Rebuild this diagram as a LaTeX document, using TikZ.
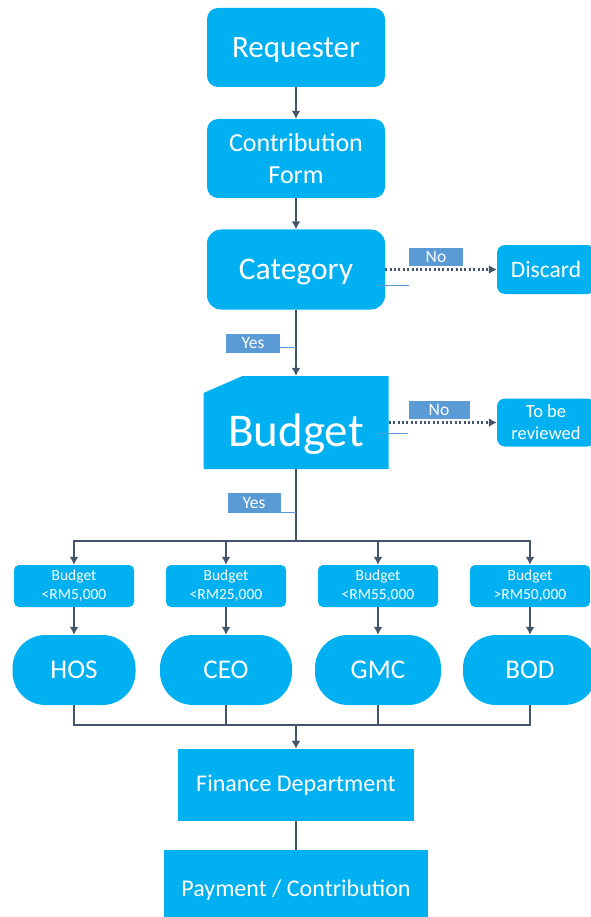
\documentclass[tikz,border=0pt]{standalone}
\usepackage{fontspec}
\setmainfont{Carlito}
\usetikzlibrary{arrows.meta}
\definecolor{boxblue}{HTML}{00B0F0}
\definecolor{tagblue}{HTML}{5B9BD5}
\definecolor{linegray}{HTML}{44546A}
\tikzstyle{block} = [fill=boxblue, rectangle, rounded corners=11pt, text=white,
    align=center, minimum height=79pt, minimum width=178pt]
\tikzstyle{decision} = [block, rounded corners=14pt, minimum height=80pt,
    text height=20pt, text depth=0pt, font=\fontsize{31.5}{36}\selectfont]
\tikzstyle{budgetcard} = [rectangle, minimum width=185pt, minimum height=93pt,
    path picture={\fill[boxblue] (path picture bounding box.south west)
      -- (path picture bounding box.south east)
      -- (path picture bounding box.north east)
      -- ([xshift=39pt]path picture bounding box.north west)
      -- ([yshift=-17pt]path picture bounding box.north west) -- cycle;}]
\tikzstyle{endbox} = [fill=boxblue, rectangle, rounded corners=8pt, text=white,
    align=center, minimum width=98pt, minimum height=49pt]
\tikzstyle{tag} = [fill=tagblue, rectangle, text=white, inner sep=0pt,
    minimum height=18pt, font=\fontsize{17.5}{20}\selectfont]
\tikzstyle{limit} = [fill=boxblue, rectangle, rounded corners=5pt, text=white,
    align=center, minimum width=120pt, minimum height=42pt, inner sep=0pt,
    font=\fontsize{15.5}{19}\selectfont]
\tikzstyle{approver} = [fill=boxblue, rectangle, rounded corners=33pt, text=white,
    minimum width=126pt, minimum height=70pt, font=\fontsize{27}{32}\selectfont]
\tikzstyle{dept} = [fill=boxblue, rectangle, text=white, minimum height=72pt,
    font=\fontsize{24}{28}\selectfont]
\tikzstyle{split} = [coordinate]
\tikzstyle{line} = [draw=linegray, line width=2.5pt]
\tikzstyle{thinline} = [draw=linegray, line width=2pt]
\tikzstyle{dotline} = [draw=linegray, line width=2.5pt, dash pattern=on 2pt off 2.4pt]
\tikzstyle{leader} = [draw=tagblue, line width=1pt]

\begin{document}
\begin{tikzpicture}[auto,node distance=111pt,>={Latex[length=8pt,width=9pt]}]
    \useasboundingbox (0,0) rectangle (590pt,-917pt);
    \node [block, text height=19.5pt, text depth=0pt,
      font=\fontsize{31}{36}\selectfont] (requester) at (296pt,-47.5pt) {Requester};
    \node [block, below of=requester, font=\fontsize{26}{32}\selectfont] (form) {Contribution\\ Form};
    \node [decision, below of=form] (category) {Category};
    \node [budgetcard, below of=category, node distance=153pt,
      label={[text=white, yshift=-12pt, font=\fontsize{47}{52}\selectfont]center:Budget}] (budget) {};
    \node [endbox, right of=category, node distance=250pt,
      font=\fontsize{23.5}{28}\selectfont] (discard) {Discard};
    \node [endbox, right of=budget, node distance=250pt, minimum height=48pt,
      font=\fontsize{18.5}{22}\selectfont] (review) {To be\\ reviewed};
    \node [tag, right of=category, node distance=140pt, yshift=13pt, minimum width=54pt] (nocat) {No};
    \node [tag, right of=budget, node distance=143pt, yshift=12.5pt, minimum width=61pt] (nobudget) {No};
    \node [tag, below of=category, node distance=73.5pt, xshift=-43pt, minimum width=54pt, minimum height=19pt] (yescat) {Yes};
    \node [tag, below of=budget, node distance=80.5pt, xshift=-42pt, minimum width=53pt, minimum height=20pt] (yesbudget) {Yes};
    \node [split, below of=budget, node distance=118.5pt] (fork) {};
    % spending limits and who signs off
    \node [limit, below of=fork, node distance=45pt, xshift=-222pt] (lim1) {Budget\\ <RM5,000};
    \node [limit, below of=fork, node distance=45pt, xshift=-70pt] (lim2) {Budget\\ <RM25,000};
    \node [limit, below of=fork, node distance=45pt, xshift=82pt] (lim3) {Budget\\ <RM55,000};
    \node [limit, below of=fork, node distance=45pt, xshift=234pt] (lim4) {Budget\\ >RM50,000};
    \node [approver, below of=lim1, node distance=84pt, minimum width=123pt] (hos) {HOS};
    \node [approver, below of=lim2, node distance=84pt, minimum width=132pt] (ceo) {CEO};
    \node [approver, below of=lim3, node distance=84pt] (gmc) {GMC};
    \node [approver, below of=lim4, node distance=84pt, minimum width=134pt] (bod) {BOD};
    \node [split, below of=fork, node distance=184pt] (merge) {};
    \node [dept, below of=fork, node distance=244pt, minimum width=236pt] (finance) {Finance Department};
    \node [dept, below of=finance, node distance=105pt, minimum width=264pt, minimum height=80pt] (payment) {Payment / Contribution};
    \draw [->,line] (requester) -- (form);
    \draw [->,line] (form) -- (category);
    \draw [->,line] (category) -- (budget);
    \draw [->,dotline] (category) -- (discard);
    \draw [->,dotline] (budget) -- (review);
    \draw [line] (budget) -- (fork);
    \draw [leader] (nocat.west |- category.east) ++(0,-16pt) -- ++(-32pt,0);
    \draw [leader] (nobudget.west |- budget.east) ++(0,-10.5pt) -- ++(-28pt,0);
    \draw [leader] ([yshift=-4.5pt]yescat.east) -- ++(16pt,0);
    \draw [leader] ([yshift=-9pt]yesbudget.east) -- ++(15pt,0);
    \draw [->,thinline] (fork) -| (lim1);
    \draw [->,thinline] (fork) -| (lim2);
    \draw [->,thinline] (fork) -| (lim3);
    \draw [->,thinline] (fork) -| (lim4);
    \draw [->,line] (lim1) -- (hos);
    \draw [->,line] (lim2) -- (ceo);
    \draw [->,line] (lim3) -- (gmc);
    \draw [->,line] (lim4) -- (bod);
    \draw [thinline] (hos) |- (merge);
    \draw [thinline] (ceo) |- (merge);
    \draw [thinline] (gmc) |- (merge);
    \draw [thinline] (bod) |- (merge);
    \draw [->,line] (merge) -- (finance);
    \draw [line] (finance) -- (payment);
\end{tikzpicture}
\end{document}
